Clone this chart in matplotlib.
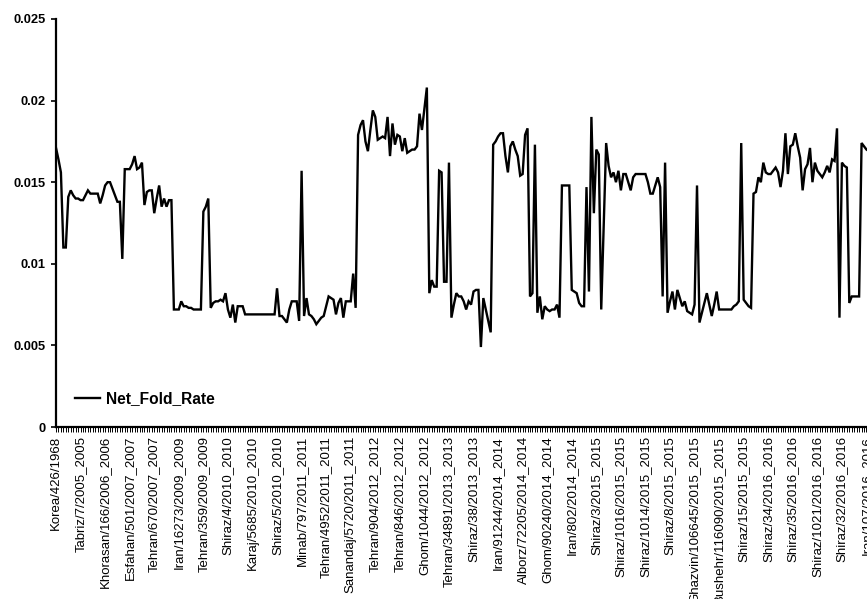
import matplotlib
matplotlib.use("Agg")
import matplotlib.pyplot as plt
from matplotlib.ticker import MultipleLocator, FixedLocator

plt.rcParams["font.family"] = ["Liberation Sans", "DejaVu Sans"]

# ─────────── Net fold rate per record ───────────
rate_a = [
    0.0171, 0.0164, 0.0156, 0.0110, 0.0110, 0.0141, 0.0145, 0.0142, 0.0140, 0.0140,
    0.0139, 0.0139, 0.0142, 0.0145, 0.0143, 0.0143, 0.0143, 0.0143, 0.0137, 0.0142,
    0.0148, 0.0150, 0.0150, 0.0146, 0.0142, 0.0138, 0.0138, 0.0103, 0.0158, 0.0158,
    0.0158, 0.0161, 0.0166, 0.0158, 0.0159, 0.0162, 0.0136, 0.0144, 0.0145, 0.0145,
    0.0131, 0.0140, 0.0148, 0.0135, 0.0140, 0.0135, 0.0139, 0.0139, 0.0072, 0.0072,
    0.0072, 0.0077, 0.0074, 0.0074, 0.0073, 0.0073, 0.0072, 0.0072, 0.0072, 0.0072,
    0.0132, 0.0135, 0.0140, 0.0073, 0.0076, 0.0077, 0.0077, 0.0078, 0.0077, 0.0082,
    0.0072, 0.0067, 0.0075, 0.0064, 0.0074, 0.0074, 0.0074, 0.0069, 0.0069, 0.0069,
    0.0069, 0.0069, 0.0069, 0.0069, 0.0069, 0.0069, 0.0069, 0.0069, 0.0069, 0.0069,
    0.0085, 0.0068, 0.0068, 0.0066, 0.0064, 0.0072, 0.0077, 0.0077, 0.0077, 0.0065,
    0.0157, 0.0068, 0.0079, 0.0069, 0.0068, 0.0066, 0.0063, 0.0065, 0.0067, 0.0068,
    0.0074, 0.0080, 0.0079, 0.0078, 0.0069, 0.0076, 0.0079, 0.0067, 0.0077, 0.0077,
]
rate_b = [
    0.0077, 0.0094, 0.0073, 0.0179, 0.0185, 0.0188, 0.0175, 0.0169, 0.0182, 0.0194,
    0.0190, 0.0176, 0.0177, 0.0178, 0.0177, 0.0190, 0.0166, 0.0186, 0.0173, 0.0179,
    0.0178, 0.0169, 0.0177, 0.0168, 0.0169, 0.0170, 0.0170, 0.0172, 0.0192, 0.0182,
    0.0195, 0.0208, 0.0082, 0.0090, 0.0086, 0.0086, 0.0157, 0.0156, 0.0089, 0.0089,
    0.0162, 0.0067, 0.0075, 0.0082, 0.0080, 0.0080, 0.0077, 0.0072, 0.0077, 0.0075,
    0.0083, 0.0084, 0.0084, 0.0049, 0.0079, 0.0072, 0.0065, 0.0058, 0.0173, 0.0175,
    0.0178, 0.0180, 0.0180, 0.0166, 0.0156, 0.0172, 0.0175, 0.0170, 0.0166, 0.0154,
    0.0155, 0.0179, 0.0183, 0.0080, 0.0082, 0.0173, 0.0070, 0.0080, 0.0066, 0.0074,
    0.0072, 0.0071, 0.0072, 0.0072, 0.0075, 0.0067, 0.0148, 0.0148, 0.0148, 0.0148,
    0.0084, 0.0083, 0.0082, 0.0076, 0.0074, 0.0074, 0.0147, 0.0083, 0.0190, 0.0131,
    0.0170, 0.0167, 0.0072, 0.0123, 0.0174, 0.0160, 0.0153, 0.0156, 0.0150, 0.0157,
]
rate_c = [
    0.0145, 0.0155, 0.0155, 0.0150, 0.0145, 0.0153, 0.0155, 0.0155, 0.0155, 0.0155,
    0.0155, 0.0150, 0.0143, 0.0143, 0.0148, 0.0153, 0.0147, 0.0080, 0.0162, 0.0070,
    0.0077, 0.0083, 0.0072, 0.0084, 0.0079, 0.0074, 0.0077, 0.0071, 0.0070, 0.0069,
    0.0075, 0.0148, 0.0064, 0.0070, 0.0076, 0.0082, 0.0075, 0.0068, 0.0075, 0.0083,
    0.0072, 0.0072, 0.0072, 0.0072, 0.0072, 0.0072, 0.0074, 0.0075, 0.0077, 0.0174,
    0.0078, 0.0076, 0.0074, 0.0073, 0.0143, 0.0144, 0.0153, 0.0150, 0.0162, 0.0156,
    0.0155, 0.0155, 0.0157, 0.0159, 0.0156, 0.0147, 0.0157, 0.0180, 0.0155, 0.0172,
    0.0173, 0.0180, 0.0172, 0.0165, 0.0145, 0.0158, 0.0161, 0.0171, 0.0150, 0.0162,
    0.0157, 0.0155, 0.0153, 0.0156, 0.0160, 0.0156, 0.0164, 0.0163, 0.0183, 0.0067,
    0.0162, 0.0160, 0.0159, 0.0076, 0.0080, 0.0080, 0.0080, 0.0080, 0.0174, 0.0172,
    0.0170, 0.0169, 0.0168,
]
net_fold_rate = rate_a + rate_b + rate_c

# one label every 10 records
tick_labels = [
    "Korea/426/1968", "Tabriz/7/2005_2005", "Khorasan/166/2006_2006",
    "Esfahan/501/2007_2007", "Tehran/670/2007_2007", "Iran/16273/2009_2009",
    "Tehran/359/2009_2009", "Shiraz/4/2010_2010", "Karaj/5685/2010_2010",
    "Shiraz/5/2010_2010", "Minab/797/2011_2011", "Tehran/4952/2011_2011",
    "Sanandaj/5720/2011_2011", "Tehran/904/2012_2012", "Tehran/846/2012_2012",
    "Ghom/1044/2012_2012", "Tehran/34891/2013_2013", "Shiraz/38/2013_2013",
    "Iran/91244/2014_2014", "Alborz/72205/2014_2014", "Ghom/90240/2014_2014",
    "Iran/802/2014_2014", "Shiraz/3/2015_2015", "Shiraz/1016/2015_2015",
    "Shiraz/1014/2015_2015", "Shiraz/8/2015_2015", "Ghazvin/106645/2015_2015",
    "Bushehr/116090/2015_2015", "Shiraz/15/2015_2015", "Shiraz/34/2016_2016",
    "Shiraz/35/2016_2016", "Shiraz/1021/2016_2016", "Shiraz/32/2016_2016",
    "Iran/107/2016_2016",
]
LABEL_STEP = 10
y_ticks = [0, 0.005, 0.01, 0.015, 0.02, 0.025]
y_tick_text = ["0", "0.005", "0.01", "0.015", "0.02", "0.025"]

# ─────────── Figure ───────────
W, H = 867, 599
fig = plt.figure(figsize=(W / 100, H / 100), dpi=100)
x_max = 345
px_per_pt = 2.456
ax = fig.add_axes([56 / W, (H - 427) / H, x_max * px_per_pt / W, 408 / H])

x = list(range(len(net_fold_rate)))
ax.plot(x, net_fold_rate, color="black", lw=1.7, label="Net_Fold_Rate",
        solid_joinstyle="miter")

ax.set_xlim(0, x_max)
ax.set_ylim(0, 0.025)

ax.xaxis.set_major_locator(FixedLocator(range(0, LABEL_STEP * len(tick_labels), LABEL_STEP)))
ax.set_xticklabels(tick_labels, rotation=90, fontsize=9.5)
ax.xaxis.set_minor_locator(MultipleLocator(1))
ax.tick_params(axis="x", which="both", direction="out", length=3.5, width=0.7, pad=3)

ax.set_yticks(y_ticks)
ax.set_yticklabels(y_tick_text, fontsize=9.3, fontweight="bold")
ax.tick_params(axis="y", direction="out", length=3.5, width=1.2, pad=4)

for side in ("top", "right"):
    ax.spines[side].set_visible(False)
for side in ("left", "bottom"):
    ax.spines[side].set_linewidth(1.6)

leg = ax.legend(loc="center left", bbox_to_anchor=(75 / W, 1 - 399 / H),
                bbox_transform=fig.transFigure, frameon=False, borderpad=0,
                borderaxespad=0, handlelength=1.6, handletextpad=0.4,
                prop={"size": 11.2, "weight": "bold"})

fig.savefig("out.png", dpi=100)
